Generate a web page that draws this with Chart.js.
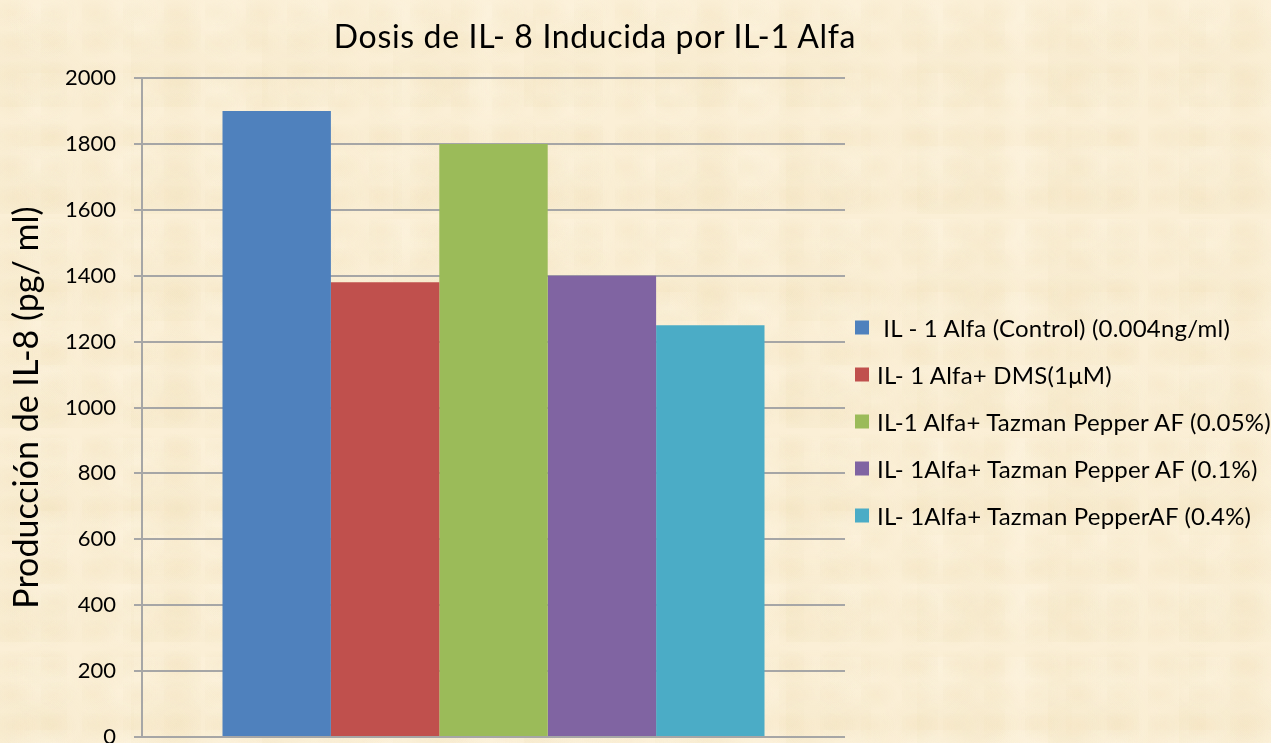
<!DOCTYPE html>
<html>
<head>
<meta charset="utf-8">
<script src="https://cdn.jsdelivr.net/npm/chart.js@4/dist/chart.umd.min.js"></script>
<style>
  html, body { margin: 0; padding: 0; }
  body {
    width: 1271px; height: 743px; overflow: hidden;
    background-color: #FBEFD6;
    background-image:
      radial-gradient(ellipse at 30% 40%, rgba(234,214,168,0.16) 0, rgba(234,214,168,0) 60%),
      radial-gradient(ellipse at 70% 60%, rgba(236,218,175,0.18) 0, rgba(236,218,175,0) 55%),
      radial-gradient(ellipse at 50% 20%, rgba(255,248,232,0.35) 0, rgba(255,248,232,0) 60%),
      radial-gradient(ellipse at 20% 80%, rgba(230,210,160,0.14) 0, rgba(230,210,160,0) 65%);
    background-size: 41px 31px, 67px 53px, 89px 73px, 131px 107px;
    font-family: Lato, "Open Sans", sans-serif;
  }
  #wrap { position: relative; width: 1271px; height: 743px; overflow: hidden; }
  #title {
    position: absolute; left: 595px; top: 35px; transform: translate(-50%, -50%);
    font-size: 32px; letter-spacing: 0.65px; color: #000; white-space: nowrap;
  }
  #legend { position: absolute; left: 855px; top: 0; }
  .item { position: absolute; left: 0; white-space: nowrap; display: flex; align-items: center;
          transform: translateY(-50%); font-size: 24px; letter-spacing: 0.2px; color: #000; }
  .box { width: 14px; height: 14px; margin-right: 8px; flex: none; }
  canvas { position: absolute; left: 0; top: 0; }
</style>
</head>
<body>
<div id="wrap">
  <canvas id="c" width="1271" height="780"></canvas>
  <div id="title"></div>
  <div id="legend"></div>
</div>
<script>
const chartTitle = "Dosis de IL- 8 Inducida por IL-1 Alfa";
const yAxisTitle = "Producción de IL-8 (pg/ ml)";
const categories = [""];
const seriesNames = [
  " IL - 1 Alfa (Control) (0.004ng/ml)",
  "IL- 1 Alfa+ DMS(1μM)",
  "IL-1 Alfa+ Tazman Pepper AF (0.05%)",
  "IL- 1Alfa+ Tazman Pepper AF (0.1%)",
  "IL- 1Alfa+ Tazman PepperAF (0.4%)"
];
const seriesValues = [1900, 1380, 1800, 1400, 1250];
const seriesColors = ["#4F81BD", "#C0504D", "#9BBB59", "#8064A2", "#4BACC6"];
const yMin = 0, yMax = 2000, yStep = 200;

document.getElementById('title').textContent = chartTitle;

const datasets = seriesNames.map((name, i) => ({
  label: name,
  data: [seriesValues[i]],
  backgroundColor: seriesColors[i],
  borderWidth: 0,
  categoryPercentage: 0.771,
  barPercentage: 1.0
}));

const gridColor = "#A6A6A6";

const chart = new Chart(document.getElementById('c'), {
  type: 'bar',
  data: { labels: categories, datasets },
  options: {
    responsive: false,
    animation: false,
    layout: { padding: { top: 78, right: 426, bottom: 43, left: 0 } },
    plugins: {
      legend: { display: false },
      title: { display: false },
      tooltip: { enabled: false }
    },
    scales: {
      x: { display: false },
      y: {
        min: yMin, max: yMax,
        ticks: {
          stepSize: yStep,
          color: "#000",
          padding: 18,
          font: { family: "Lato", size: 22 },
          callback: (v) => String(v)
        },
        grid: { color: gridColor, lineWidth: 2, tickLength: 8, tickColor: gridColor },
        border: { color: gridColor, width: 2 },
        title: {
          display: true,
          text: yAxisTitle,
          color: "#000",
          font: { family: "Lato", size: 34 },
          padding: { top: 7, bottom: 0 }
        },
        afterFit: (scale) => { scale.width = 142; }
      }
    }
  }
});

const legend = document.getElementById('legend');
const rowY = [327, 374, 421, 468, 515];
seriesNames.forEach((name, i) => {
  const item = document.createElement('div');
  item.className = 'item';
  item.style.top = rowY[i] + 'px';
  const box = document.createElement('span');
  box.className = 'box';
  box.style.background = seriesColors[i];
  const txt = document.createElement('span');
  txt.textContent = name;
  txt.style.whiteSpace = 'pre';
  item.appendChild(box);
  item.appendChild(txt);
  legend.appendChild(item);
});
</script>
</body>
</html>
